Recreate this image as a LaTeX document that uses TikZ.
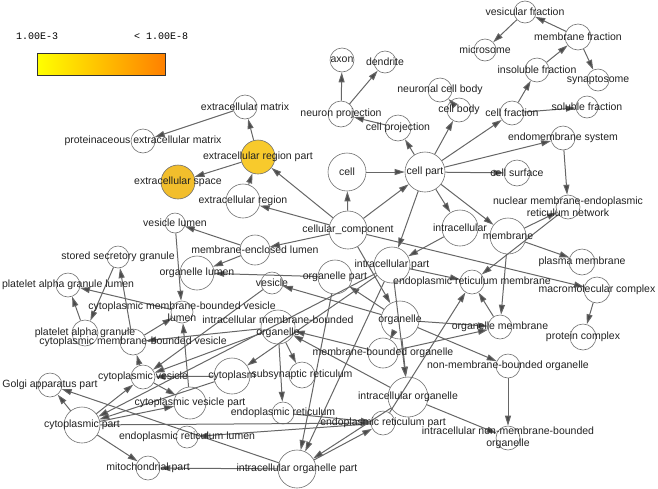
\documentclass[tikz,border=0pt]{standalone}
\usepackage{fontspec}
\setmainfont{Liberation Sans}
\newfontfamily\legendfont{Liberation Mono}
\usetikzlibrary{arrows.meta}
\definecolor{edgec}{HTML}{666666}
\definecolor{tipc}{HTML}{4A4A4A}
\definecolor{circc}{HTML}{707070}
\definecolor{goldA}{RGB}{248,202,44}
\definecolor{goldB}{RGB}{242,190,44}
\definecolor{txtc}{HTML}{222222}
\tikzset{
  nd/.style={circle, draw=circc, fill=white, line width=0.6pt, inner sep=0pt, minimum size=#1},
  lbl/.style={text=txtc, font=\fontsize{10.5}{12}\selectfont, inner sep=0pt, align=center},
  ed/.style={draw=edgec, line width=1.0pt, -{Triangle[length=10pt,width=6pt,fill=tipc]}},
}
\begin{document}
\begin{tikzpicture}[x=1pt,y=1pt]
\useasboundingbox (0,0) rectangle (658,-488);
% legend
\node[anchor=west, inner sep=0pt, font=\legendfont\fontsize{10}{12}\selectfont] (l1) at (16,-36) {1.00E-3};
\node[anchor=west, inner sep=0pt, font=\legendfont\fontsize{10}{12}\selectfont] (l2) at (134,-36) {< 1.00E-8};
\shade[left color=yellow, right color={rgb,255:red,255;green,128;blue,0}] (37.5,-53) rectangle (165.5,-75);
\draw[line width=0.7pt, black!80] (37.5,-53) rectangle (165.5,-75);
% nodes
\node[nd=22pt] (vfr) at (525,-12) {};
\node[nd=22pt] (mic) at (485,-50) {};
\node[nd=26pt] (mfr) at (578,-37) {};
\node[nd=24pt] (ifr) at (537,-70) {};
\node[nd=22pt] (syn) at (598,-80) {};
\node[nd=22pt] (sfr) at (587,-107) {};
\node[nd=24pt] (cfr) at (512,-113) {};
\node[nd=24pt] (axon) at (342,-60) {};
\node[nd=22pt] (den) at (385,-62) {};
\node[nd=26pt] (npr) at (341,-114) {};
\node[nd=24pt] (ncb) at (440,-90) {};
\node[nd=24pt] (cbd) at (459,-110) {};
\node[nd=24pt] (exm) at (245,-107) {};
\node[nd=24pt] (pem) at (143,-141) {};
\node[nd=34pt, fill=goldA] (erp) at (258,-157) {};
\node[nd=34pt, fill=goldB] (exs) at (178,-182) {};
\node[nd=34pt] (exr) at (243,-201) {};
\node[nd=38pt] (cell) at (347,-172) {};
\node[nd=40pt] (cpt) at (425,-172) {};
\node[nd=26pt] (cpr) at (398,-128) {};
\node[nd=24pt] (ems) at (563,-138) {};
\node[nd=26pt] (csf) at (517,-173) {};
\node[nd=24pt] (nmer) at (568,-207) {};
\node[nd=36pt] (mem) at (508,-236) {};
\node[nd=36pt] (ic) at (460,-228) {};
\node[nd=38pt] (cc) at (348,-230) {};
\node[nd=20pt] (vl) at (175,-223) {};
\node[nd=30pt] (mel) at (255,-250) {};
\node[nd=22pt] (ssg) at (118,-257) {};
\node[nd=34pt] (ol) at (197,-273) {};
\node[nd=24pt] (pagl) at (68,-285) {};
\node[nd=22pt] (cmbvl) at (182,-312) {};
\node[nd=26pt] (pag) at (85,-333) {};
\node[nd=26pt] (cmbv) at (133,-342) {};
\node[nd=22pt] (ves) at (272,-283) {};
\node[nd=34pt] (opt) at (335,-277) {};
\node[nd=36pt] (icp) at (392,-265) {};
\node[nd=24pt] (erm) at (472,-282) {};
\node[nd=26pt] (pm) at (582,-262) {};
\node[nd=26pt] (mmc) at (597,-290) {};
\node[nd=24pt] (om) at (500,-327) {};
\node[nd=26pt] (pc) at (583,-337) {};
\node[nd=38pt] (org) at (400,-320) {};
\node[nd=34pt] (imbo) at (278,-327) {};
\node[nd=30pt] (mbo) at (383,-353) {};
\node[nd=24pt] (nmbo) at (508,-366) {};
\node[nd=24pt] (inmbo) at (508,-438) {};
\node[nd=40pt] (io) at (408,-397) {};
\node[nd=36pt] (cyt) at (232,-376) {};
\node[nd=26pt] (ssr) at (302,-375) {};
\node[nd=24pt] (cv) at (143,-377) {};
\node[nd=32pt] (cvp) at (190,-403) {};
\node[nd=24pt] (gap) at (50,-385) {};
\node[nd=36pt] (cpart) at (82,-425) {};
\node[nd=22pt] (erl) at (187,-437) {};
\node[nd=24pt] (mtp) at (148,-468) {};
\node[nd=22pt] (er) at (283,-413) {};
\node[nd=24pt] (erpt) at (383,-423) {};
\node[nd=38pt] (iop) at (297,-469) {};
% edges
\foreach \a/\b in {mfr/vfr, vfr/mic, ifr/mfr, mfr/syn, cfr/ifr, cfr/sfr, cpt/cfr,
  npr/axon, npr/den, cpr/npr, cpt/cpr, cpt/cbd, cbd/ncb, cpt/ems, cpt/csf, cpt/mem, cpt/ic,
  ems/nmer, mem/nmer, nmer/erm, mem/pm, mem/om, cc/mmc, mmc/pc, om/erm, erpt/erm, org/om, mbo/om,
  org/nmbo, nmbo/inmbo, io/inmbo, cc/cell, cell/cpt, cc/cpt, cc/erp, cc/exr, exr/erp,
  erp/exm, exm/pem, erp/exs, cc/mel, mel/vl, mel/ol, vl/cmbvl, cmbvl/pagl, pag/pagl,
  ssg/pag, cmbv/ssg, cmbv/cmbvl, cv/cmbv, imbo/cmbv, cvp/cmbvl, cc/org, cpt/icp, ic/icp, org/opt,
  opt/ol, org/mbo, org/io, icp/io, mbo/imbo, io/imbo, icp/cyt, cyt/cpart, icp/cpart, cpart/gap,
  cpart/mtp, iop/mtp, iop/gap, cpart/cv, cpart/cvp, cv/cvp, ves/cv, opt/iop, icp/iop, io/iop, iop/erpt,
  imbo/er, er/erpt, cpart/erpt,
  erpt/erl, imbo/ssr, org/ves, imbo/cv, cyt/cv, icp/erm}
  \draw[ed] (\a) -- (\b);
% labels
\node[lbl] at (vfr) {vesicular fraction};
\node[lbl] at (mic) {microsome};
\node[lbl] at (mfr) {membrane fraction};
\node[lbl] at (ifr) {insoluble fraction};
\node[lbl] at (syn) {synaptosome};
\node[lbl] at (sfr) {soluble fraction};
\node[lbl] at (cfr) {cell fraction};
\node[lbl] at (axon) {axon};
\node[lbl] at (den) {dendrite};
\node[lbl] at (npr) {neuron projection};
\node[lbl] at (ncb) {neuronal cell body};
\node[lbl] at (cbd) {cell body};
\node[lbl] at (exm) {extracellular matrix};
\node[lbl] at (pem) {proteinaceous extracellular matrix};
\node[lbl] at (erp) {extracellular region part};
\node[lbl] at (exs) {extracellular space};
\node[lbl] at (exr) {extracellular region};
\node[lbl] at (cell) {cell};
\node[lbl] at (cpt) {cell part};
\node[lbl] at (cpr) {cell projection};
\node[lbl] at (ems) {endomembrane system};
\node[lbl] at (csf) {cell surface};
\node[lbl] at (nmer) {nuclear membrane-endoplasmic\\reticulum network};
\node[lbl] at (mem) {membrane};
\node[lbl] at (ic) {intracellular};
\node[lbl] at (cc) {cellular\_component};
\node[lbl] at (vl) {vesicle lumen};
\node[lbl] at (mel) {membrane-enclosed lumen};
\node[lbl] at (ssg) {stored secretory granule};
\node[lbl] at (ol) {organelle lumen};
\node[lbl] at (pagl) {platelet alpha granule lumen};
\node[lbl] at (cmbvl) {cytoplasmic membrane-bounded vesicle\\lumen};
\node[lbl] at (pag) {platelet alpha granule};
\node[lbl] at (cmbv) {cytoplasmic membrane-bounded vesicle};
\node[lbl] at (ves) {vesicle};
\node[lbl] at (opt) {organelle part};
\node[lbl] at (icp) {intracellular part};
\node[lbl] at (erm) {endoplasmic reticulum membrane};
\node[lbl] at (pm) {plasma membrane};
\node[lbl] at (mmc) {macromolecular complex};
\node[lbl] at (om) {organelle membrane};
\node[lbl] at (pc) {protein complex};
\node[lbl] at (org) {organelle};
\node[lbl] at (imbo) {intracellular membrane-bounded\\organelle};
\node[lbl] at (mbo) {membrane-bounded organelle};
\node[lbl] at (nmbo) {non-membrane-bounded organelle};
\node[lbl] at (inmbo) {intracellular non-membrane-bounded\\organelle};
\node[lbl] at (io) {intracellular organelle};
\node[lbl] at (cyt) {cytoplasm};
\node[lbl] at (ssr) {subsynaptic reticulum};
\node[lbl] at (cv) {cytoplasmic vesicle};
\node[lbl] at (cvp) {cytoplasmic vesicle part};
\node[lbl] at (gap) {Golgi apparatus part};
\node[lbl] at (cpart) {cytoplasmic part};
\node[lbl] at (erl) {endoplasmic reticulum lumen};
\node[lbl] at (mtp) {mitochondrial part};
\node[lbl] at (er) {endoplasmic reticulum};
\node[lbl] at (erpt) {endoplasmic reticulum part};
\node[lbl] at (iop) {intracellular organelle part};
\end{tikzpicture}
\end{document}
